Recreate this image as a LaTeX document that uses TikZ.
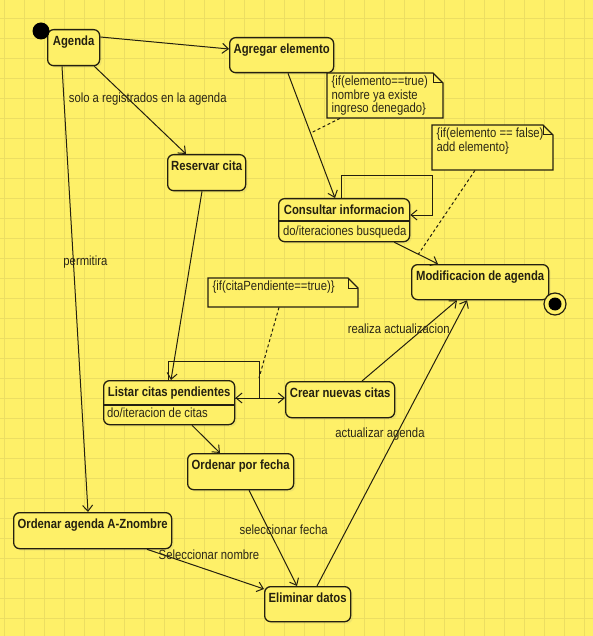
\documentclass[tikz,border=0pt]{standalone}
\usepackage{fontspec}
\setmainfont{Liberation Sans}
\usetikzlibrary{arrows.meta,calc,shadows}

\definecolor{paper}{RGB}{254,240,104}
\definecolor{gridc}{RGB}{236,222,98}
\definecolor{ink}{RGB}{36,32,16}
\definecolor{labelc}{RGB}{42,38,22}

\tikzset{
  stbox/.style={draw=ink, line width=1.3pt, rounded corners=6pt, fill=paper,
    inner sep=0pt, anchor=north west,
    drop shadow={opacity=0.12, shadow xshift=2pt, shadow yshift=-2pt}},
  ttl/.style={font=\fontsize{13.3}{14}\bfseries, text=ink, xscale=0.85, inner sep=0pt},
  txt/.style={font=\fontsize{13.3}{11.6}\selectfont, text=labelc, xscale=0.85,
    inner sep=0pt, align=left},
  arr/.style={draw=ink, line width=1pt, -{Straight Barb[length=6pt,width=10pt]}},
  notelink/.style={draw=ink, line width=1pt, dash pattern=on 3pt off 2.5pt},
  noteshape/.style={draw=ink, line width=1.2pt, fill=paper},
}

% state box: name, x1, y1, x2, y2, title
\newcommand\statebox[6]{%
  \node[stbox, minimum width={(#4-#2)*1pt}, minimum height={(#5-#3)*1pt}] (#1) at (#2,#3) {};
  \node[ttl, anchor=base] (#1-t) at ($(#1.north)+(0,16.3)$) {#6};
}
% note with folded corner: name, x1, y1, x2, y2, text
\newcommand\notebox[6]{%
  \path[noteshape] (#2,#3) -- (#4-10,#3) -- (#4,#3+10) -- (#4,#5) -- (#2,#5) -- cycle;
  \draw[ink, line width=1pt] (#4-10,#3) -- (#4-10,#3+10) -- (#4,#3+10);
  \node[inner sep=0pt, anchor=north west, minimum width={(#4-#2)*1pt},
        minimum height={(#5-#3)*1pt}] (#1) at (#2,#3) {};
  \node[txt, anchor=north west] (#1-t) at (#2+4.5,#3+3) {#6};
}

\begin{document}
\begin{tikzpicture}[x=1pt, y=-1pt]
  % paper and grid
  \fill[paper] (0,0) rectangle (593,636);
  \useasboundingbox (0,0) rectangle (593,636);
  \foreach \gx in {4,24,...,593} \draw[gridc, line width=0.6pt] (\gx,0) -- (\gx,636);
  \foreach \gy in {18,38,...,636} \draw[gridc, line width=0.6pt] (0,\gy) -- (593,\gy);

  % states
  \statebox{agenda}{47}{29}{99}{65}{Agenda}
  \statebox{agregar}{229}{37}{333}{72}{Agregar elemento}
  \statebox{reservar}{167}{154}{245}{190}{Reservar cita}
  \statebox{consultar}{278}{198}{409}{241}{Consultar informacion}
  \statebox{modif}{411}{264}{548}{299}{Modificacion de agenda}
  \statebox{listar}{103}{380}{234}{424}{Listar citas pendientes}
  \statebox{crear}{285}{381}{394}{417}{Crear nuevas citas}
  \statebox{porfecha}{187}{453}{293}{489}{Ordenar por fecha}
  \statebox{aznombre}{13}{512}{171}{548}{Ordenar agenda A-Znombre}
  \statebox{eliminar}{264}{586}{350}{621}{Eliminar datos}

  % internal activities
  \draw[ink, line width=1.2pt] ($(consultar.north west)+(0,23)$) -- ($(consultar.north east)+(0,23)$);
  \node[txt, anchor=base west] (consultar-do) at ($(consultar.north west)+(5,37.5)$) {do/iteraciones busqueda};
  \draw[ink, line width=1.2pt] ($(listar.north west)+(0,25)$) -- ($(listar.north east)+(0,25)$);
  \node[txt, anchor=base west] (listar-do) at ($(listar.north west)+(4,37.5)$) {do/iteracion de citas};

  % initial and final states
  \node[circle, fill=black, inner sep=0pt, minimum size=17pt] (init) at (41,31) {};
  \node[circle, draw=ink, line width=1.2pt, fill=paper, inner sep=0pt, minimum size=22pt] (final) at (555,304) {};
  \node[circle, fill=black, inner sep=0pt, minimum size=13pt] (finaldot) at (final.center) {};

  % notes
  \notebox{n1}{327}{73}{443}{118}{\{if(elemento==true)\\nombre ya existe\\ingreso denegado\}}
  \notebox{n2}{432}{125}{553}{170}{\{if(elemento == false)\\add elemento\}}
  \notebox{n3}{208}{278}{358}{307}{\{if(citaPendiente==true)\}}

  % transitions
  \draw[arr] ($(agenda.north east)+(0,8)$) -- ($(agregar.north west)+(0,12)$);
  \draw[arr] ($(agenda.south east)+(-6,0)$) --
    node[xshift=19.5pt, txt, pos=0.37] (lbl-solo) {solo a registrados en la agenda}
    ($(reservar.north west)+(19,0)$);
  \draw[arr] ($(agenda.south west)+(15,0)$) --
    node[xshift=12pt, txt, pos=0.44] (lbl-perm) {permitira}
    ($(aznombre.north west)+(75,0)$);
  \draw[arr] ($(agregar.south west)+(59,0)$) --
    coordinate[pos=0.48] (m1)
    ($(consultar.north west)+(57,0)$);
  \draw[arr] ($(consultar.north west)+(63,0)$) -- ++(0,-22) -- ++(91,0)
    |- ($(consultar.north east)+(0,17)$);
  \draw[arr] ($(consultar.south east)+(-16,0)$) --
    coordinate[pos=0.55] (m2)
    ($(modif.north west)+(27,0)$);
  \draw[arr] ($(reservar.south west)+(35,0)$) -- ($(listar.north west)+(68,0)$);
  \draw[arr] ($(listar.north west)+(65,0)$) -- ++(0,-19) -- ++(91,0)
    -- ++(0,37) coordinate[pos=0.46] (m3)
    -- ($(listar.north east)+(0,18)$);
  \draw[arr] ($(listar.north east)+(0,18)$) -- ($(crear.north west)+(0,17)$);
  \draw[arr] ($(crear.north west)+(77,0)$) --
    node[xshift=-25pt, txt, pos=0.65] (lbl-real) {realiza actualizacion}
    ($(modif.south west)+(46,0)$);
  \draw[arr] ($(eliminar.north west)+(53,0)$) --
    node[xshift=-17pt, txt, pos=0.533] (lbl-act) {actualizar agenda}
    ($(modif.south west)+(56,0)$);
  \draw[arr] ($(listar.south west)+(89,0)$) -- ($(porfecha.north west)+(33,0)$);
  \draw[arr] ($(porfecha.south west)+(62,0)$) --
    node[xshift=15pt, txt, pos=0.41] (lbl-fecha) {seleccionar fecha}
    ($(eliminar.north west)+(33,0)$);
  \draw[arr] ($(aznombre.south west)+(134,0)$) --
    node[yshift=16pt, txt, pos=0.53] (lbl-nom) {Seleccionar nombre}
    ($(eliminar.north west)+(0,3)$);

  % note anchors
  \draw[notelink] ($(n1.south west)+(13,0)$) -- (m1);
  \draw[notelink] ($(n2.south west)+(43,0)$) -- (m2);
  \draw[notelink] ($(n3.south west)+(71,0)$) -- (m3);
\end{tikzpicture}
\end{document}
